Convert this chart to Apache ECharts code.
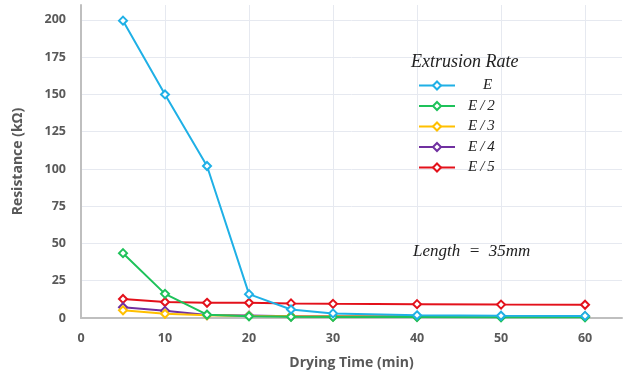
<!DOCTYPE html>
<html>
<head>
<meta charset="utf-8">
<script src="https://cdn.jsdelivr.net/npm/echarts@6/dist/echarts.min.js"></script>
<style>
  html, body { margin: 0; padding: 0; background: #fff; }
  #chart { width: 624px; height: 375px; }
</style>
</head>
<body>
<div id="chart"></div>
<script>
const dryingTime = [5, 10, 15, 20, 25, 30, 40, 50, 60];
const seriesNames = ["E", "E/2", "E/3", "E/4", "E/5"];
const rateE = [199.5, 150, 102, 16, 5.7, 3.1, 1.8, 1.5, 1.4];
const rateE2 = [43.5, 16.2, 2.2, 1.2, 0.8, 0.7, 0.6, 0.5, 0.5];
const rateE3 = [5.2, 2.8, 1.8, 1.4, 1.1, 1.0, 1.0, 1.0, 1.0];
const rateE4 = [7.2, 4.8, 2.0, 1.6, 1.2, 1.1, 1.1, 1.1, 1.1];
const rateE5 = [12.8, 10.7, 10.2, 10.2, 9.8, 9.5, 9.3, 9.0, 8.9];
const colors = ["#1fb0e6", "#1ec25a", "#ffc000", "#7030a0", "#e3111b"];
const yTicks = [0, 25, 50, 75, 100, 125, 150, 175, 200];
const xTicks = [0, 10, 20, 30, 40, 50, 60];

const allData = [rateE, rateE2, rateE3, rateE4, rateE5];

const chart = echarts.init(document.getElementById("chart"));

const labelStyle = { color: "#595959", fontFamily: "Open Sans", fontWeight: "bold", fontSize: 12.5 };
const serifItalic = { fontFamily: "Liberation Serif", fontStyle: "italic" };

chart.setOption({
  animation: false,
  grid: { left: 81, right: 2, top: 5, bottom: 57 },
  title: {
    text: "Extrusion Rate",
    left: 406,
    top: 48,
    textStyle: Object.assign({ fontSize: 18, fontWeight: "normal", color: "#222" }, serifItalic),
  },
  legend: {
    orient: "vertical",
    left: 413,
    top: 72,
    itemWidth: 36,
    itemHeight: 10,
    itemGap: 3.5,
    data: seriesNames,
    textStyle: Object.assign({ fontSize: 15, lineHeight: 17, color: "#222", padding: [0, 0, 0, 8] }, serifItalic),
    formatter: (name) => (name === "E" ? "    E" : name.replace("/", "\u2009/\u2009")),
  },
  graphic: [
    {
      type: "text",
      left: 413,
      top: 243,
      z: 100,
      style: Object.assign({ text: "Length  =  35mm", fontSize: 17, fill: "#222" }, serifItalic),
    },
  ],
  xAxis: {
    type: "value",
    min: 0,
    max: 64.4,
    interval: 10,
    name: "Drying Time (min)",
    nameLocation: "middle",
    nameGap: 38,
    nameTextStyle: { color: "#595959", fontFamily: "Open Sans", fontWeight: "bold", fontSize: 14 },
    axisLine: { lineStyle: { color: "#bfbfbf", width: 2 } },
    axisTick: { show: false },
    axisLabel: Object.assign({}, labelStyle, {
      margin: 14,
      showMaxLabel: false,
      formatter: (v) => (xTicks.includes(v) ? String(v) : ""),
    }),
    splitLine: { lineStyle: { color: "#e6e9f0", width: 1 }, showMaxLine: false },
  },
  yAxis: {
    type: "value",
    min: 0,
    max: 210,
    interval: 25,
    name: "Resistance (kΩ)",
    nameLocation: "middle",
    nameGap: 56,
    nameTextStyle: { color: "#595959", fontFamily: "Open Sans", fontWeight: "bold", fontSize: 14 },
    axisLine: { show: true, lineStyle: { color: "#bfbfbf", width: 2 } },
    axisTick: { show: false },
    axisLabel: Object.assign({}, labelStyle, {
      margin: 15,
      showMaxLabel: false,
      formatter: (v) => (yTicks.includes(v) ? String(v) : ""),
    }),
    splitLine: { lineStyle: { color: "#e6e9f0", width: 1 }, showMaxLine: false },
  },
  series: seriesNames.map((name, i) => ({
    name: name,
    type: "line",
    data: dryingTime.map((t, j) => [t, allData[i][j]]),
    symbol: "diamond",
    symbolSize: 8,
    showAllSymbol: true,
    z: 10 - i,
    lineStyle: { color: colors[i], width: 2 },
    itemStyle: { color: "#fff", borderColor: colors[i], borderWidth: 2 },
    emphasis: { disabled: true },
  })),
});
</script>
</body>
</html>
